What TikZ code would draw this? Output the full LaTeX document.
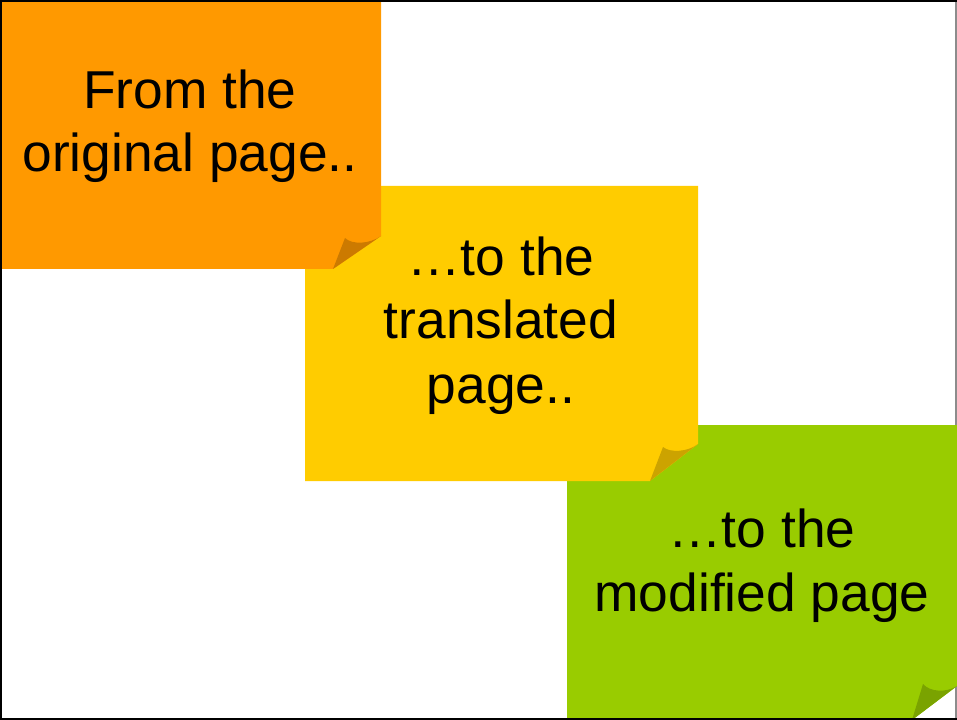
\documentclass[tikz,border=0pt]{standalone}
\usepackage{fontspec}
\setmainfont{Liberation Sans}
\definecolor{porange}{HTML}{FF9900}
\definecolor{porangeD}{HTML}{CC7A00}
\definecolor{pyellow}{HTML}{FFCC00}
\definecolor{pyellowD}{HTML}{CCA300}
\definecolor{pgreen}{HTML}{99CC00}
\definecolor{pgreenD}{HTML}{7AA300}
\begin{document}
\begin{tikzpicture}[x=0.75pt,y=-0.75pt,
  txt/.style={font=\fontsize{40}{48}\selectfont, anchor=base, inner sep=0pt}]
\useasboundingbox (0,0) rectangle (957,720);
\fill[white] (0,0) rectangle (957,720);
\fill[black!45] (955,0) rectangle (957,720);
% green note
\coordinate (gA) at (957,686);
\coordinate (gB) at (912,720);
\coordinate (gC) at (923,684);
\fill[pgreen] (567,425) -- (957,425) -- (gA) -- (gB) -- (567,720) -- cycle;
\fill[pgreenD] (gA) .. controls (946,693) and (930,692) .. (gC) -- (gB) -- cycle;
% yellow note
\coordinate (yA) at (698,444);
\coordinate (yB) at (650,481);
\coordinate (yC) at (663,447);
\fill[pyellow] (305,186) -- (698,186) -- (yA) -- (yB) -- (305,481) -- cycle;
\fill[pyellowD] (yA) .. controls (688,452) and (670,453) .. (yC) -- (yB) -- cycle;
% orange note
\coordinate (oA) at (381,236);
\coordinate (oB) at (333,269);
\coordinate (oC) at (345,238);
\fill[porange] (0,0) -- (381,0) -- (oA) -- (oB) -- (0,269) -- cycle;
\fill[porangeD] (oA) .. controls (370,244) and (352,245) .. (oC) -- (oB) -- cycle;
% texts
\node[txt] (o1) at (190,109) {From the};
\node[txt] (o2) at (190,172) {original page..};
\node[txt] (y1) at (501,276) {…to the};
\node[txt] (y2) at (501,339) {translated};
\node[txt] (y3) at (501,403) {page..};
\node[txt] (g1) at (762,547) {…to the};
\node[txt] (g2) at (762,611) {modified page};
% frame
\fill[black] (0,0) rectangle (957,2);
\fill[black] (0,0) rectangle (2,720);
\fill[black] (0,717.5) rectangle (957,720);
\end{tikzpicture}
\end{document}
